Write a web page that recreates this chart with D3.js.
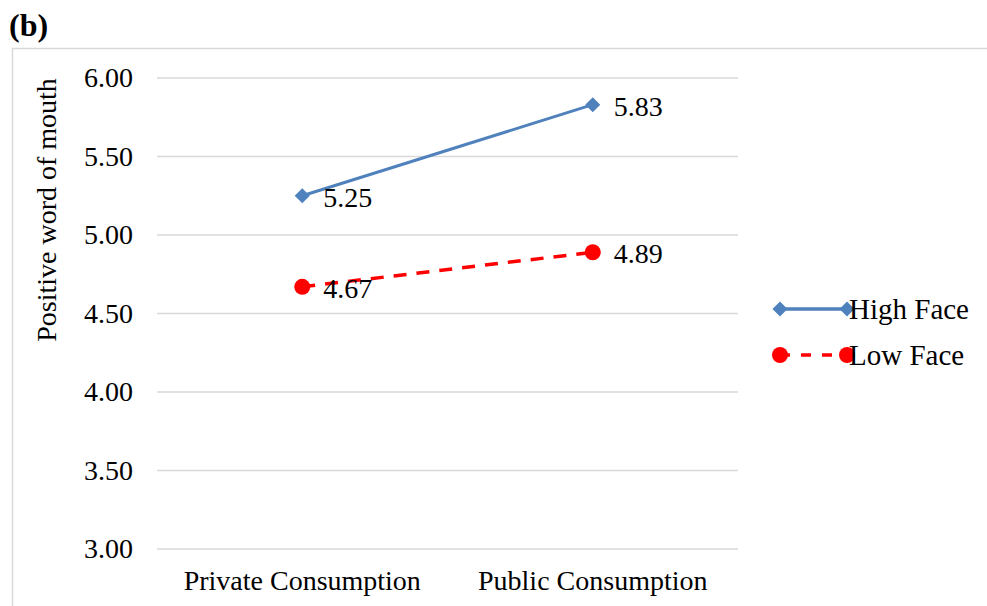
<!DOCTYPE html>
<html>
<head>
<meta charset="utf-8">
<script src="https://cdn.jsdelivr.net/npm/d3@7/dist/d3.min.js"></script>
<style>
  body { margin: 0; background: #fff; }
  svg { display: block; font-family: "Liberation Serif", "Times New Roman", serif; }
</style>
</head>
<body>
<div id="chart"></div>
<script>
const categories = ["Private Consumption", "Public Consumption"];
const highFace = [5.25, 5.83];
const lowFace = [4.67, 4.89];
const yTicks = [3.0, 3.5, 4.0, 4.5, 5.0, 5.5, 6.0];

const width = 987, height = 606;
const plot = { left: 157, right: 738, top: 78, bottom: 549 };

const svg = d3.select('#chart')
	.append('svg')
		.attr('width', width)
		.attr('height', height);

// outer frame
svg.append('rect')
	.attr('x', 12.5).attr('y', 48.5)
	.attr('width', 1000).attr('height', 600)
	.attr('fill', 'none')
	.attr('stroke', '#d9d9d9')
	.attr('stroke-width', 1.5);

svg.append('text')
	.attr('x', 9).attr('y', 36)
	.attr('font-size', 32)
	.attr('font-weight', 'bold')
	.text('(b)');

const x = d3.scaleBand().domain(categories).range([plot.left, plot.right]);
const y = d3.scaleLinear().domain([3, 6]).range([plot.bottom, plot.top]);
const cx = d => x(d) + x.bandwidth() / 2;

// gridlines
svg.append('g')
	.selectAll('line')
	.data(yTicks).enter()
	.append('line')
		.attr('x1', plot.left).attr('x2', plot.right)
		.attr('y1', d => y(d)).attr('y2', d => y(d))
		.attr('stroke', '#d9d9d9')
		.attr('stroke-width', 1.5);

// y axis labels
const yAxis = svg.append('g')
	.attr('transform', `translate(${plot.left - 24},0)`)
	.call(d3.axisLeft(y).tickValues(yTicks).tickFormat(d3.format('.2f')).tickSize(0).tickPadding(0));
yAxis.select('.domain').remove();
yAxis.selectAll('text')
	.attr('font-family', 'Liberation Serif, serif')
	.attr('font-size', 28)
	.attr('fill', '#000');

// x axis labels
const xAxis = svg.append('g')
	.attr('transform', `translate(0,${plot.bottom + 21})`)
	.call(d3.axisBottom(x).tickSize(0).tickPadding(0));
xAxis.select('.domain').remove();
xAxis.selectAll('text')
	.attr('font-family', 'Liberation Serif, serif')
	.attr('font-size', 28)
	.attr('fill', '#000');

svg.append('text')
	.attr('transform', `translate(56,210) rotate(-90)`)
	.attr('text-anchor', 'middle')
	.attr('font-size', 28)
	.text('Positive word of mouth');

const line = d3.line().x((d, i) => cx(categories[i])).y(d => y(d));

// high face
svg.append('path')
	.datum(highFace)
	.attr('d', line)
	.attr('fill', 'none')
	.attr('stroke', '#4f81bd')
	.attr('stroke-width', 3);
const diamond = d3.symbol().type(d3.symbolDiamond2).size(145);
svg.append('g').selectAll('path')
	.data(highFace).enter()
	.append('path')
		.attr('d', diamond)
		.attr('transform', (d, i) => `translate(${cx(categories[i])},${y(d)})`)
		.attr('fill', '#4f81bd');

// low face
svg.append('path')
	.datum(lowFace)
	.attr('d', line)
	.attr('fill', 'none')
	.attr('stroke', '#ff0000')
	.attr('stroke-width', 3.5)
	.attr('stroke-dasharray', '13,10');
svg.append('g').selectAll('circle')
	.data(lowFace).enter()
	.append('circle')
		.attr('cx', (d, i) => cx(categories[i]))
		.attr('cy', d => y(d))
		.attr('r', 8)
		.attr('fill', '#ff0000');

// value labels
[highFace, lowFace].forEach(series => {
	svg.append('g').selectAll('text')
		.data(series).enter()
		.append('text')
			.attr('x', (d, i) => cx(categories[i]) + 21)
			.attr('y', d => y(d) + 11)
			.attr('font-size', 28)
			.text(d => d3.format('.2f')(d));
});

// legend
const legend = [
	{ name: 'High Face', color: '#4f81bd', dash: null, shape: 'diamond' },
	{ name: 'Low Face', color: '#ff0000', dash: '10,11', shape: 'circle' }
];
const lg = svg.append('g').selectAll('g')
	.data(legend).enter()
	.append('g')
		.attr('transform', (d, i) => `translate(780,${309 + i * 46})`);
lg.append('line')
	.attr('x1', 0).attr('x2', 67)
	.attr('stroke', d => d.color)
	.attr('stroke-width', 3.5)
	.attr('stroke-dasharray', d => d.dash);
lg.each(function(d) {
	const g = d3.select(this);
	[0, 67].forEach(px => {
		if (d.shape === 'diamond') {
			g.append('path').attr('d', diamond).attr('transform', `translate(${px},0)`).attr('fill', d.color);
		} else {
			g.append('circle').attr('cx', px).attr('r', 8).attr('fill', d.color);
		}
	});
});
lg.append('text')
	.attr('x', 69)
	.attr('y', 10)
	.attr('font-size', 29)
	.text(d => d.name);
</script>
</body>
</html>
